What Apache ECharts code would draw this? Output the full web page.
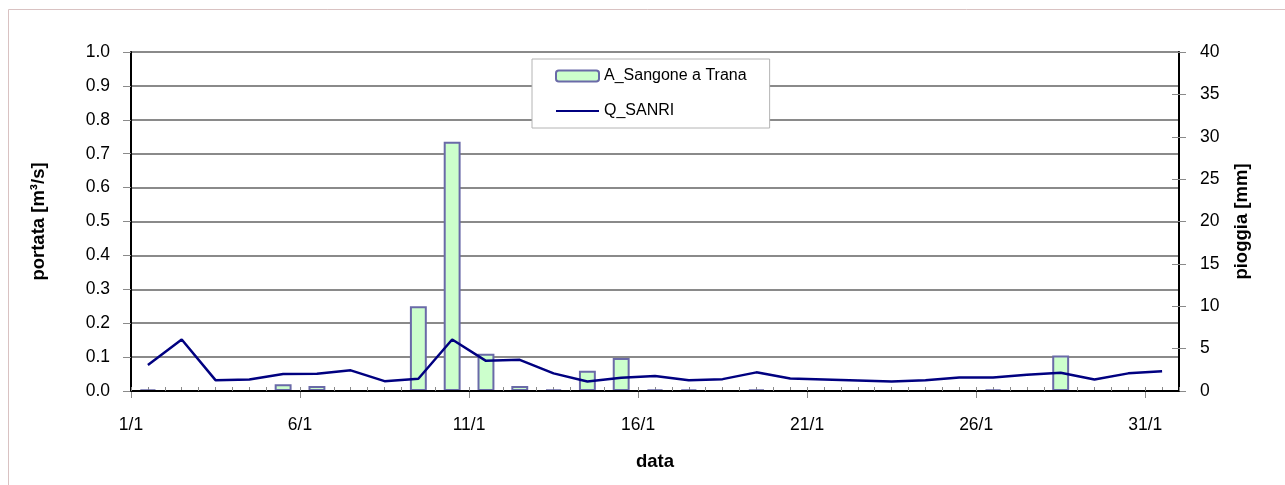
<!DOCTYPE html>
<html>
<head>
<meta charset="utf-8">
<script src="https://cdn.jsdelivr.net/npm/echarts@6/dist/echarts.min.js"></script>
<style>
html,body{margin:0;padding:0;background:#fff;}
#chart{width:1285px;height:485px;}
</style>
</head>
<body>
<div id="chart"></div>
<script>
// ---- data ----
const dates = ['1/1','2/1','3/1','4/1','5/1','6/1','7/1','8/1','9/1','10/1',
  '11/1','12/1','13/1','14/1','15/1','16/1','17/1','18/1','19/1','20/1',
  '21/1','22/1','23/1','24/1','25/1','26/1','27/1','28/1','29/1','30/1','31/1'];
// rain [mm] (right axis)
const rainName = 'A_Sangone a Trana';
const rain = [0.2,0,0,0,0.8,0.6,0,0,10,29.4,
  4.4,0.6,0.2,2.4,3.9,0.2,0.2,0,0.2,0,
  0,0,0,0,0,0.2,0,4.2,0,0,0];
// discharge [m3/s] (left axis)
const flowName = 'Q_SANRI';
const flow = [0.077,0.152,0.032,0.034,0.050,0.051,0.061,0.029,0.036,0.152,
  0.089,0.092,0.052,0.028,0.039,0.044,0.032,0.035,0.055,0.037,
  0.034,0.031,0.028,0.032,0.040,0.040,0.048,0.054,0.034,0.052,0.058];
// tick positions (category boundaries) for the date labels
const labelTicks = [0,5,10,15,20,25,30];

const FONT = "'Liberation Sans',Arial,sans-serif";
const GRAY = '#8a8a8a';
const TICK_FS = 17.5, TITLE_FS = 18.5, LEGEND_FS = 16;

const chart = echarts.init(document.getElementById('chart'), null, {renderer:'canvas'});
chart.setOption({
  animation:false,
  backgroundColor:'#fff',
  textStyle:{fontFamily:FONT},
  graphic:[{
    type:'rect', z:-10, silent:true,
    shape:{x:8.5,y:9.5,width:1300,height:500},
    style:{fill:'none',stroke:'#d9c2c2',lineWidth:1}
  }],
  grid:{left:131,right:106,top:52,bottom:94,containLabel:false},
  legend:{
    orient:'vertical', left:532, top:59,
    padding:[9,23,9,23], itemGap:19,
    itemWidth:43, itemHeight:11,
    backgroundColor:'#fff', borderColor:'#b4b4b4', borderWidth:1,
    textStyle:{fontFamily:FONT,fontSize:LEGEND_FS,color:'#000'},
    data:[rainName, {name:flowName, itemStyle:{opacity:0}}]
  },
  xAxis:[
    { // category axis carrying the data, boundary ticks inside
      type:'category', data:dates, boundaryGap:true, position:'bottom',
      axisLine:{show:true,lineStyle:{color:'#000',width:2}},
      axisTick:{show:true,inside:true,length:4,interval:0,lineStyle:{color:GRAY,width:1}},
      axisLabel:{show:false}, splitLine:{show:false}, z:5
    },
    { // value overlay for date labels at boundaries
      type:'value', min:0, max:31, interval:5, position:'bottom',
      name:'data', nameLocation:'middle', nameGap:61,
      nameTextStyle:{fontFamily:FONT,fontSize:TITLE_FS,fontWeight:'bold',color:'#000'},
      axisLine:{show:false},
      axisTick:{show:true,inside:false,length:7,customValues:labelTicks,lineStyle:{color:GRAY,width:1}},
      axisLabel:{show:true,margin:25,customValues:labelTicks,fontFamily:FONT,fontSize:TICK_FS,color:'#000',
        formatter:function(v){ return labelTicks.indexOf(v)>=0 ? dates[v] : ''; }},
      splitLine:{show:false}
    },
    { // centre ticks inside
      type:'category', data:dates, boundaryGap:true, position:'bottom',
      axisLine:{show:false},
      axisTick:{show:true,inside:true,length:4,interval:0,alignWithLabel:true,lineStyle:{color:GRAY,width:1}},
      axisLabel:{show:false}, splitLine:{show:false}
    }
  ],
  yAxis:[
    {
      type:'value', min:0, max:1, interval:0.1, position:'left',
      name:'portata [m³/s]', nameLocation:'middle', nameGap:83, nameRotate:90,
      nameTextStyle:{fontFamily:FONT,fontSize:TITLE_FS,fontWeight:'bold',color:'#000'},
      axisLine:{show:true,lineStyle:{color:'#000',width:2}},
      axisTick:{show:true,inside:false,length:8,lineStyle:{color:GRAY,width:1}},
      axisLabel:{margin:21,fontFamily:FONT,fontSize:TICK_FS,color:'#000',
        formatter:function(v){return v.toFixed(1);}},
      splitLine:{show:true,lineStyle:{color:GRAY,width:2}}
    },
    {
      type:'value', min:0, max:40, interval:5, position:'right',
      name:'pioggia [mm]', nameLocation:'middle', nameGap:53, nameRotate:90,
      nameTextStyle:{fontFamily:FONT,fontSize:TITLE_FS,fontWeight:'bold',color:'#000'},
      axisLine:{show:true,lineStyle:{color:'#000',width:2}},
      axisTick:{show:true,inside:false,length:7,lineStyle:{color:GRAY,width:1}},
      axisLabel:{margin:21,fontFamily:FONT,fontSize:TICK_FS,color:'#000'},
      splitLine:{show:false}
    },
    {
      type:'value', min:0, max:40, interval:5, position:'right',
      axisLine:{show:false},
      axisTick:{show:true,inside:true,length:7,lineStyle:{color:GRAY,width:1}},
      axisLabel:{show:false}, splitLine:{show:false}
    }
  ],
  series:[
    {
      name:rainName, type:'bar', xAxisIndex:0, yAxisIndex:1,
      data:rain, barWidth:'50%',
      itemStyle:{color:'#ccffcc',borderColor:'#6a6aa8',borderWidth:2},
      z:2
    },
    {
      name:flowName, type:'line', xAxisIndex:0, yAxisIndex:0,
      data:flow, symbol:'none', showSymbol:false,
      lineStyle:{color:'#000080',width:2.5},
      itemStyle:{color:'#000080'},
      z:3
    }
  ]
});
</script>
</body>
</html>
